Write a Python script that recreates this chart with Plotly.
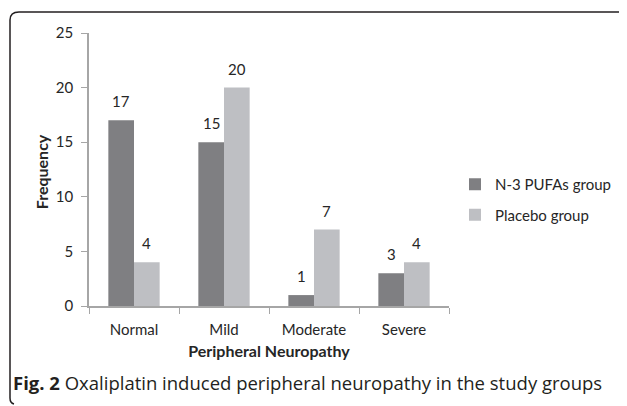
import plotly.graph_objects as go

categories = ["Normal", "Mild", "Moderate", "Severe"]
pufa_values = [17, 15, 1, 3]
placebo_values = [4, 20, 7, 4]
series_names = ["N-3 PUFAs group", "Placebo group"]
series_values = [pufa_values, placebo_values]
series_colors = ["#7f7f82", "#bebfc3"]
y_ticks = [0, 5, 10, 15, 20, 25]

OFF = 8                     # default page margin of the html body
W, H = 627 - OFF, 406 - OFF
# plot area in page pixels
L, R, T, B = 89, 449, 33, 306
BARGAP = 0.43


def px(x):
    return (x - L) / (R - L)


def py(y):
    return (B - y) / (B - T)


FONT = "Lato"
TXT = "#262626"

fig = go.Figure()
for j, (name, vals, col) in enumerate(zip(series_names, series_values, series_colors)):
    fig.add_trace(go.Bar(
        x=categories, y=vals, name=name,
        marker=dict(color=col, line=dict(width=0)),
        legendgroup=name,
    ))

# value labels above each bar
cat_px = (R - L) / len(categories)
bar_px = (1 - BARGAP) * cat_px / len(series_names)
annotations = []
for j, vals in enumerate(series_values):
    shift = (j - (len(series_names) - 1) / 2) * bar_px
    for c, v in zip(categories, vals):
        annotations.append(dict(
            x=c, y=v, xref="x", yref="y", text=str(v), showarrow=False,
            xanchor="center", yanchor="bottom", xshift=shift, yshift=8,
            font=dict(family=FONT, size=15, color=TXT),
        ))

# y-axis title
annotations.append(dict(
    text="<b>Frequency</b>", xref="paper", yref="paper",
    x=px(41), y=0.49, textangle=-90, showarrow=False,
    xanchor="center", yanchor="middle",
    font=dict(family=FONT, size=16, color=TXT),
))

annotations.append(dict(
    text="<b>Fig. 2</b> Oxaliplatin induced peripheral neuropathy in the study groups",
    xref="paper", yref="paper", x=px(11), y=py(383),
    xanchor="left", yanchor="middle", showarrow=False,
    font=dict(family="Open Sans", size=18.5, color="#231f20"),
))

border = (
    f"M {px(624)},{py(12)} Q {px(626)},{py(12)} {px(626)},{py(14)} "
    f"M {px(624)},{py(12)} L {px(19)},{py(12)} "
    f"Q {px(10)},{py(12)} {px(10)},{py(20)} "
    f"L {px(10)},{py(398)} Q {px(10)},{py(403)} {px(14)},{py(404)}"
)

fig.update_layout(
    width=W, height=H,
    margin=dict(l=L - OFF, r=W - (R - OFF), t=T - OFF, b=H - (B - OFF), pad=0,
                autoexpand=False),
    paper_bgcolor="white", plot_bgcolor="white",
    barmode="group", bargap=BARGAP, bargroupgap=0,
    font=dict(family=FONT, size=15, color=TXT),
    showlegend=True,
    legend=dict(
        x=px(455), y=py(168), xanchor="left", yanchor="top",
        font=dict(family=FONT, size=15, color=TXT),
        traceorder="grouped", tracegroupgap=8,
        bgcolor="rgba(0,0,0,0)", itemwidth=30,
    ),
    xaxis=dict(
        showline=True, linecolor="#a6a6a6", linewidth=1.5,
        ticks="outside", tickson="boundaries", ticklen=6, tickcolor="#a6a6a6",
        tickfont=dict(family=FONT, size=15, color=TXT),
        ticklabelstandoff=9,
        showgrid=False, zeroline=False,
        title=dict(text="<b>Peripheral Neuropathy</b>", standoff=9,
                   font=dict(family=FONT, size=16, color=TXT)),
    ),
    yaxis=dict(
        range=[0, 25], tickvals=y_ticks,
        showline=True, linecolor="#a6a6a6", linewidth=1.5,
        ticks="outside", ticklen=6, tickcolor="#a6a6a6",
        tickfont=dict(family=FONT, size=15, color=TXT),
        ticklabelstandoff=5,
        showgrid=False, zeroline=False,
    ),
    shapes=[dict(type="path", path=border, xref="paper", yref="paper",
                 line=dict(color="#231f20", width=1.5))],
    annotations=annotations,
)

fig.write_html("out.html")
